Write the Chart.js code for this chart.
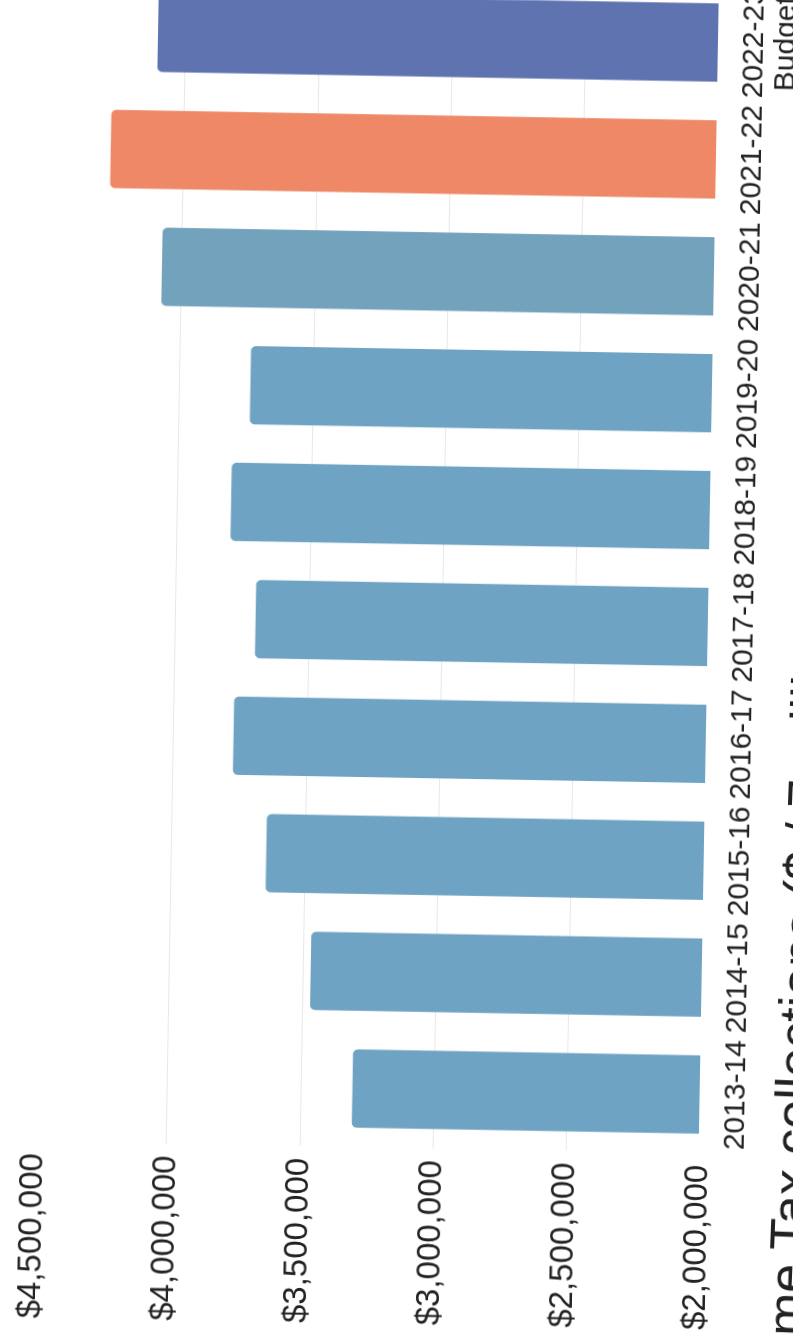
<!DOCTYPE html>
<html>
<head>
<meta charset="utf-8">
<script src="https://cdn.jsdelivr.net/npm/chart.js@4"></script>
<style>
  html, body { margin: 0; padding: 0; background: #fff; overflow: hidden; width: 793px; height: 1338px; }
  #tilt { position: absolute; left: 0; top: 0; width: 793px; height: 1338px; transform-origin: 705px 670px; transform: rotate(1deg); }
  #page { position: absolute; left: 0; top: 0; width: 1380px; height: 860px; transform-origin: 0 0; transform: translate(0px, 1338px) rotate(-90deg); }
  #chart { position: absolute; left: 0; top: 0; }
  #title { position: absolute; left: -95px; top: 767px; white-space: nowrap; font: 52px "Liberation Sans", Arial, sans-serif; color: #222;
           transform-origin: 133px 45px; transform: rotate(1.3deg); }
</style>
</head>
<body>
<div id="tilt">
  <div id="page">
    <canvas id="chart" width="1380" height="800"></canvas>
    <div id="title">Income Tax collections ($ / 7 millions in fiscal year)</div>
  </div>
</div>
<script>
// fiscal years, last one is the budget year
const categories = ['2013-14', '2014-15', '2015-16', '2016-17', '2017-18', '2018-19', '2019-20', '2020-21', '2021-22', ['2022-23', 'Budget']];
const collections = [3305000, 3470000, 3645000, 3775000, 3700000, 3800000, 3735000, 4075000, 4275000, 4105000];
const barColors = ['#6fa3c3', '#6fa3c3', '#6fa3c3', '#6fa3c3', '#6fa3c3', '#6fa3c3', '#6fa3c3', '#73a2bd', '#ee8866', '#5f73b0'];
const axisMin = 2000000;
const axisMax = 4500000;
const axisStep = 500000;

const FONT = '"Liberation Sans", Arial, sans-serif';

new Chart(document.getElementById('chart').getContext('2d'), {
  type: 'bar',
  data: {
    labels: categories,
    datasets: [{
      data: collections,
      backgroundColor: barColors,
      borderRadius: 5,
      barPercentage: 0.67,
      categoryPercentage: 1
    }]
  },
  options: {
    responsive: false,
    animation: false,
    layout: { padding: { left: 8, right: 26, top: 42, bottom: 0 } },
    plugins: { legend: { display: false }, tooltip: { enabled: false } },
    scales: {
      x: {
        grid: { display: false },
        border: { display: false },
        ticks: {
          color: '#222',
          font: { family: FONT, size: 30, lineHeight: 1.05 },
          maxRotation: 0,
          autoSkip: false,
          padding: 13
        },
        afterFit: function (scale) { scale.height = 93; }
      },
      y: {
        min: axisMin,
        max: axisMax,
        border: { display: false },
        grid: {
          drawTicks: false,
          color: function (c) {
            const v = c.tick ? c.tick.value : null;
            return (v === axisMin || v === axisMax) ? 'rgba(0,0,0,0)' : 'rgba(0,0,0,0.09)';
          }
        },
        ticks: {
          stepSize: axisStep,
          color: '#222',
          crossAlign: 'far',
          font: { family: FONT, size: 33 },
          callback: function (v) { return '$' + Number(v).toLocaleString('en-US'); }
        },
        afterFit: function (scale) { scale.width = 177; }
      }
    }
  }
});
</script>
</body>
</html>
